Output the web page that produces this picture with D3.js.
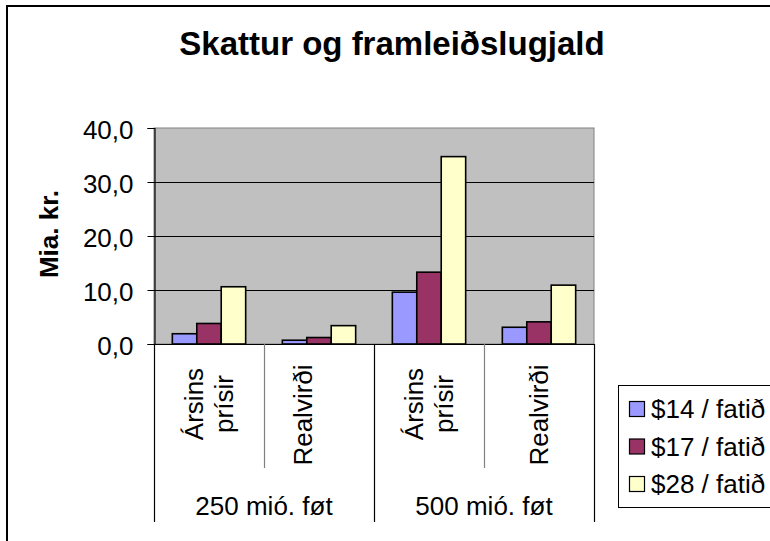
<!DOCTYPE html>
<html>
<head>
<meta charset="utf-8">
<script src="https://cdn.jsdelivr.net/npm/d3@7"></script>
<style>
  html, body { margin: 0; padding: 0; background: #fff; }
  svg { display: block; font-family: "Liberation Sans", Arial, sans-serif; }
</style>
</head>
<body>
<svg id="chart" width="770" height="541"></svg>
<script>
// ---- data ----
const title = "Skattur og framleiðslugjald";
const yTitle = "Mia. kr.";
const groups = ["250 mió. føt", "500 mió. føt"];
const categories = ["g1-a", "g1-r", "g2-a", "g2-r"];
const categoryLabels = [["Ársins", "prísir"], ["Realvirði"], ["Ársins", "prísir"], ["Realvirði"]];
const series = ["$14 / fatið", "$17 / fatið", "$28 / fatið"];
const values14 = [1.9, 0.7, 9.6, 3.1];
const values17 = [3.8, 1.2, 13.3, 4.1];
const values28 = [10.6, 3.4, 34.7, 10.9];
const yTicks = [0, 10, 20, 30, 40];
const colors = ["#9999FF", "#993366", "#FFFFCC"];

const seriesValues = [values14, values17, values28];

const svg = d3.select("#chart");

// outer chart border
svg.append("rect").attr("x", 7).attr("y", 6).attr("width", 800).attr("height", 600)
  .attr("fill", "#fff").attr("stroke", "#000").attr("stroke-width", 2);

// title
svg.append("text").attr("x", 392).attr("y", 55).attr("text-anchor", "middle")
  .attr("font-size", 33).attr("font-weight", "bold").text(title);

const plot = { left: 154, right: 594, top: 128, bottom: 344 };

const y = d3.scaleLinear().domain([0, 40]).range([plot.bottom, plot.top]);
const x0 = d3.scaleBand().domain(categories).range([plot.left, plot.right]).padding(0);
const x1 = d3.scaleBand().domain(series).range([0, x0.bandwidth()])
  .paddingInner(0).paddingOuter(0.75);

// plot area
svg.append("rect").attr("x", plot.left).attr("y", plot.top)
  .attr("width", plot.right - plot.left).attr("height", plot.bottom - plot.top)
  .attr("fill", "#C0C0C0").attr("stroke", "#808080").attr("stroke-width", 1);

// gridlines
svg.append("g").selectAll("line").data(yTicks.filter(t => t > 0 && t < 40)).join("line")
  .attr("x1", plot.left).attr("x2", plot.right)
  .attr("y1", d => Math.round(y(d)) + 0.5).attr("y2", d => Math.round(y(d)) + 0.5)
  .attr("stroke", "#000").attr("stroke-width", 1);

// bars
const rows = categories.map((c, i) => ({ cat: c, vals: series.map((s, j) => ({ s, j, v: seriesValues[j][i] })) }));
svg.append("g").selectAll("g").data(rows).join("g")
  .attr("transform", d => `translate(${x0(d.cat)},0)`)
  .selectAll("rect").data(d => d.vals).join("rect")
  .attr("x", d => x1(d.s)).attr("width", x1.bandwidth())
  .attr("y", d => y(d.v)).attr("height", d => y(0) - y(d.v))
  .attr("fill", d => colors[d.j]).attr("stroke", "#000").attr("stroke-width", 1.6);

// y axis
const yAxis = d3.axisLeft(y).tickValues(yTicks).tickSize(7).tickPadding(14)
  .tickFormat(d => d.toFixed(1).replace(".", ","));
const gy = svg.append("g").attr("transform", `translate(${plot.left + 0.5},0)`).call(yAxis);
gy.select(".domain").attr("stroke", "#000").attr("stroke-width", 1.2);
gy.selectAll(".tick line").attr("stroke", "#000");
gy.selectAll(".tick text").attr("font-size", 26).attr("fill", "#000")
  .attr("font-family", "Liberation Sans, Arial, sans-serif").attr("dy", "0.4em");

// y title
svg.append("text").attr("transform", "translate(58,234) rotate(-90)")
  .attr("text-anchor", "middle").attr("font-size", 26).attr("font-weight", "bold").text(yTitle);

// x axis line
svg.append("line").attr("x1", plot.left).attr("x2", plot.right)
  .attr("y1", plot.bottom + 0.5).attr("y2", plot.bottom + 0.5)
  .attr("stroke", "#000").attr("stroke-width", 1.2);

// category dividers
const bounds = categories.map(c => x0(c)).concat([x0.range()[1]]);
bounds.forEach((bx, i) => {
  const isGroupEdge = (i % 2 === 0);
  svg.append("line")
    .attr("x1", Math.round(bx) + 0.5).attr("x2", Math.round(bx) + 0.5)
    .attr("y1", plot.bottom).attr("y2", isGroupEdge ? 522 : 468)
    .attr("stroke", isGroupEdge ? "#000" : "#808080").attr("stroke-width", 1.2);
});

// category labels (rotated)
categories.forEach((c, i) => {
  const cx = x0(c) + x0.bandwidth() / 2;
  const lines = categoryLabels[i];
  if (lines.length === 2) {
    lines.forEach((t, k) => {
      svg.append("text").attr("transform", `translate(${cx - 6 + k * 30},404) rotate(-90)`)
        .attr("text-anchor", "middle").attr("font-size", 26).text(t);
    });
  } else {
    const shift = (i === 1) ? -16 : 0;
    svg.append("text").attr("transform", `translate(${cx + 9 + shift},415) rotate(-90)`)
      .attr("text-anchor", "middle").attr("font-size", 26).text(lines[0]);
  }
});

// group labels
groups.forEach((g, gi) => {
  const a = x0(categories[gi * 2]);
  const b = x0(categories[gi * 2 + 1]) + x0.bandwidth();
  svg.append("text").attr("x", (a + b) / 2).attr("y", 515).attr("text-anchor", "middle")
    .attr("font-size", 26).text(g);
});

// legend
const lg = svg.append("g");
lg.append("rect").attr("x", 618.5).attr("y", 385.5).attr("width", 200).attr("height", 122)
  .attr("fill", "#fff").attr("stroke", "#000").attr("stroke-width", 1);
series.forEach((s, j) => {
  const cy = 409 + j * 37.5;
  lg.append("rect").attr("x", 629.5).attr("y", cy - 7.5).attr("width", 15).attr("height", 15)
    .attr("fill", colors[j]).attr("stroke", "#000").attr("stroke-width", 1.2);
  lg.append("text").attr("x", 651).attr("y", cy + 9).attr("font-size", 26).text(s);
});
</script>
</body>
</html>
